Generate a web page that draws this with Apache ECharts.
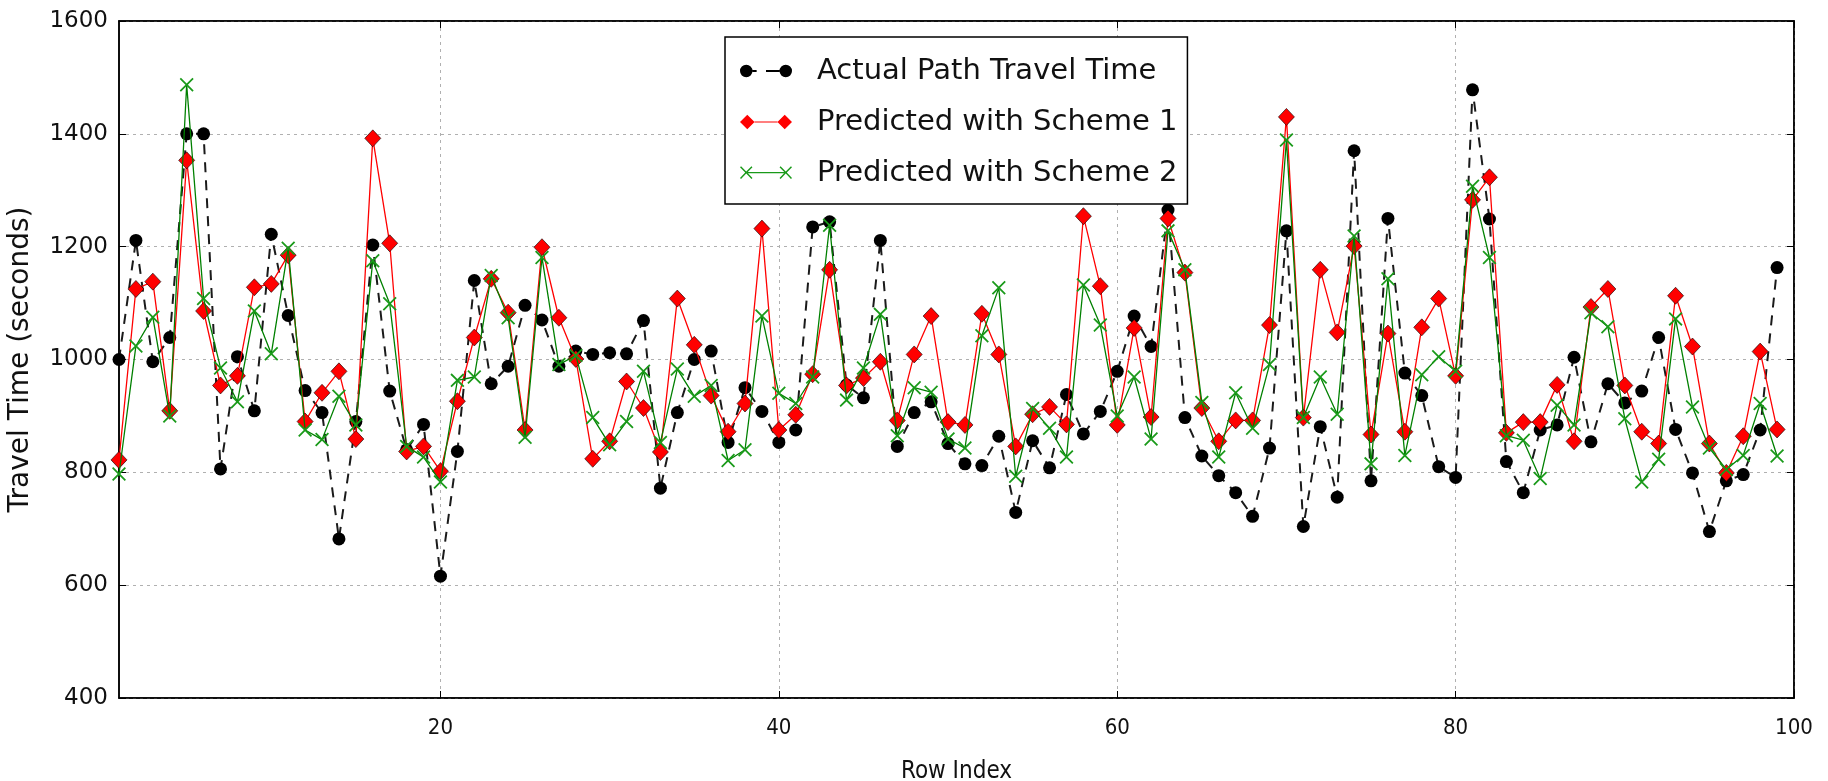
<!DOCTYPE html>
<html>
<head>
<meta charset="utf-8">
<title>Path Travel Time</title>
<script src="https://cdn.jsdelivr.net/npm/echarts@6/dist/echarts.min.js"></script>
<style>
  html, body { margin: 0; padding: 0; background: #ffffff; }
  #chart { width: 1828px; height: 781px; }
</style>
</head>
<body>
<div id="chart"></div>
<script>
// Row indices 1..99
const rowIndex = Array.from({ length: 99 }, (_, i) => i + 1);

// Measured travel time per row (seconds)
const actualTime = [
  1000, 1211, 996, 1039, 1400, 1400, 806, 1005, 909, 1222,
  1078, 945, 906, 682, 890, 1203, 944, 840, 885, 616,
  837, 1140, 957, 988, 1096, 1070, 988, 1015, 1009, 1012,
  1010, 1069, 772, 906, 1000, 1015, 853, 950, 908, 853,
  875, 1235, 1244, 955, 932, 1211, 846, 906, 925, 851,
  815, 812, 864, 729, 856, 808, 938, 868, 908, 979,
  1077, 1023, 1265, 897, 829, 794, 764, 722, 843, 1228,
  704, 881, 756, 1370, 785, 1250, 976, 936, 810, 791,
  1478, 1249, 819, 764, 875, 884, 1004, 854, 957, 923,
  944, 1039, 876, 799, 695, 785, 796, 875, 1163
];

// Predicted travel time, scheme 1
const scheme1Time = [
  822, 1125, 1138, 909, 1353, 1086, 954, 971, 1128, 1134,
  1185, 890, 941, 979, 859, 1392, 1206, 837, 846, 802,
  926, 1039, 1143, 1083, 875, 1199, 1074, 1001, 824, 855,
  961, 914, 836, 1108, 1026, 936, 872, 922, 1232, 875,
  902, 974, 1159, 954, 967, 996, 892, 1009, 1077, 889,
  884, 1081, 1009, 846, 903, 916, 885, 1254, 1130, 884,
  1056, 898, 1250, 1154, 914, 855, 892, 892, 1061, 1430,
  897, 1159, 1048, 1201, 867, 1046, 872, 1057, 1108, 971,
  1283, 1323, 870, 889, 889, 955, 855, 1093, 1125, 954,
  872, 851, 1113, 1023, 851, 799, 864, 1014, 876
];

// Predicted travel time, scheme 2
const scheme2Time = [
  797, 1024, 1075, 900, 1487, 1108, 985, 925, 1086, 1010,
  1197, 875, 858, 935, 884, 1175, 1099, 846, 827, 783,
  963, 969, 1149, 1074, 862, 1181, 991, 1007, 897, 849,
  890, 979, 853, 983, 935, 954, 821, 840, 1077, 940,
  922, 969, 1238, 928, 985, 1080, 865, 950, 942, 859,
  843, 1042, 1127, 793, 913, 878, 827, 1132, 1061, 900,
  969, 859, 1228, 1159, 924, 827, 941, 878, 991, 1389,
  897, 969, 903, 1219, 815, 1143, 830, 973, 1005, 979,
  1307, 1181, 865, 857, 789, 919, 884, 1083, 1058, 895,
  783, 823, 1072, 916, 843, 805, 830, 922, 829
];

const xTicks = [20, 40, 60, 80, 100];
const seriesNames = ['Actual Path Travel Time', 'Predicted with Scheme 1', 'Predicted with Scheme 2'];

const pair = (ys) => rowIndex.map((x, i) => [x, ys[i]]);

// thin "x" cross marker
const crossPath = 'path://M0,0.9 L0.9,0 L5,4.1 L9.1,0 L10,0.9 L5.9,5 L10,9.1 L9.1,10 L5,5.9 L0.9,10 L0,9.1 L4.1,5 Z';

// legend keys: a marker at each end of a short line segment (50 x 14 box)
const keyActual = 'path://M0,7 A6,6 0 1,0 12,7 A6,6 0 1,0 0,7 Z' +
  ' M38,7 A6,6 0 1,0 50,7 A6,6 0 1,0 38,7 Z' +
  ' M12,6.1 L16,6.1 L16,7.9 L12,7.9 Z M25,6.1 L38,6.1 L38,7.9 L25,7.9 Z' +
  ' M25,0 L25.01,0 L25.01,0.01 Z M25,14 L25.01,14 L25.01,13.99 Z';
const keyScheme1 = 'path://M0,7 L7,0 L14,7 L7,14 Z M36,7 L43,0 L50,7 L43,14 Z M14,6.4 L36,6.4 L36,7.6 L14,7.6 Z';
const keyScheme2 = 'path://M0,1.5 L1,0.5 L6,5.6 L11,0.5 L12,1.5 L7,6.6 L12,11.7 L11,12.7 L6,7.6 L1,12.7 L0,11.7 L5,6.6 Z' +
  ' M38,1.5 L39,0.5 L44,5.6 L49,0.5 L50,1.5 L45,6.6 L50,11.7 L49,12.7 L44,7.6 L39,12.7 L38,11.7 L43,6.6 Z' +
  ' M6,6 L44,6 L44,7.2 L6,7.2 Z M25,0 L25.01,0 L25.01,0.01 Z M25,14 L25.01,14 L25.01,13.99 Z';

const FONT = 'DejaVu Sans, Liberation Sans, sans-serif';
const FONT_NARROW = 'DejaVu Sans Condensed, Liberation Sans Narrow, DejaVu Sans, sans-serif';

const chart = echarts.init(document.getElementById('chart'), null, { renderer: 'canvas' });

chart.setOption({
  animation: false,
  backgroundColor: '#ffffff',
  grid: {
    left: 119, right: 34, top: 21, bottom: 83,
    outerBoundsMode: 'none', containLabel: false,
    show: true, borderColor: '#000000', borderWidth: 1.5, backgroundColor: 'transparent'
  },
  legend: {
    orient: 'vertical',
    left: 725, top: 37,
    backgroundColor: '#ffffff',
    borderColor: '#000000', borderWidth: 1.5, borderRadius: 0,
    padding: [17, 10, 14, 15],
    itemWidth: 52, itemHeight: 18, itemGap: 17,
    textStyle: { fontFamily: FONT, fontSize: 29, color: '#111111', lineHeight: 34, padding: [0, 0, 0, 20] },
    data: [
      { name: seriesNames[0], icon: keyActual, itemStyle: { color: '#000000', borderWidth: 0 } },
      { name: seriesNames[1], icon: keyScheme1, itemStyle: { color: '#ff0000', borderWidth: 0 } },
      { name: seriesNames[2], icon: keyScheme2, itemStyle: { color: '#1a9a1a', borderWidth: 0 } }
    ]
  },
  xAxis: [{
    type: 'value', min: 1, max: 100,
    name: 'Row Index', nameLocation: 'middle', nameGap: 62,
    nameTextStyle: { fontFamily: FONT_NARROW, fontSize: 24, color: '#111111' },
    axisLine: { show: true, lineStyle: { color: '#000000', width: 1.5 } },
    axisTick: { show: true, inside: true, length: 7, customValues: xTicks, lineStyle: { color: '#000000' } },
    axisLabel: { customValues: xTicks, fontFamily: FONT_NARROW, fontSize: 22, color: '#111111', margin: 19 },
    splitLine: { show: true, customValues: xTicks, lineStyle: { color: '#b0b0b0', type: [3, 4], width: 1 } }
  }, {
    type: 'value', min: 1, max: 100, position: 'top',
    axisLine: { show: true, lineStyle: { color: '#000000', width: 1.5 } },
    axisTick: { show: true, inside: true, length: 7, customValues: xTicks, lineStyle: { color: '#000000' } },
    axisLabel: { show: false },
    splitLine: { show: false }
  }],
  yAxis: [{
    type: 'value', min: 400, max: 1600, interval: 200,
    name: 'Travel Time (seconds)', nameLocation: 'middle', nameGap: 84, nameRotate: 90,
    nameTextStyle: { fontFamily: FONT, fontSize: 28, color: '#111111' },
    axisLine: { show: true, lineStyle: { color: '#000000', width: 1.5 } },
    axisTick: { show: true, inside: true, length: 7, lineStyle: { color: '#000000' } },
    axisLabel: { fontFamily: FONT, fontSize: 23, color: '#111111', margin: 11, formatter: (v) => String(v) },
    splitLine: { show: true, lineStyle: { color: '#b0b0b0', type: [3, 4], width: 1 } }
  }, {
    type: 'value', min: 400, max: 1600, interval: 200, position: 'right',
    axisLine: { show: true, lineStyle: { color: '#000000', width: 1.5 } },
    axisTick: { show: true, inside: true, length: 7, lineStyle: { color: '#000000' } },
    axisLabel: { show: false },
    splitLine: { show: false }
  }],
  series: [{
    name: seriesNames[0],
    type: 'line',
    data: pair(actualTime),
    symbol: 'circle', symbolSize: 13,
    color: '#000000',
    itemStyle: { color: '#000000' },
    lineStyle: { color: '#1a1a1a', width: 2, type: [10, 8] },
    z: 2
  }, {
    name: seriesNames[1],
    type: 'line',
    data: pair(scheme1Time),
    symbol: 'diamond', symbolSize: [16, 17],
    color: '#ff0000',
    itemStyle: { color: '#ff0000', borderColor: '#000000', borderWidth: 0.6 },
    lineStyle: { color: '#ff0000', width: 1.3 },
    z: 3
  }, {
    name: seriesNames[2],
    type: 'line',
    data: pair(scheme2Time),
    symbol: crossPath, symbolSize: 14,
    color: '#008000',
    itemStyle: { color: '#1a9a1a' },
    lineStyle: { color: '#008000', width: 1.3 },
    z: 4
  }]
});
</script>
</body>
</html>
